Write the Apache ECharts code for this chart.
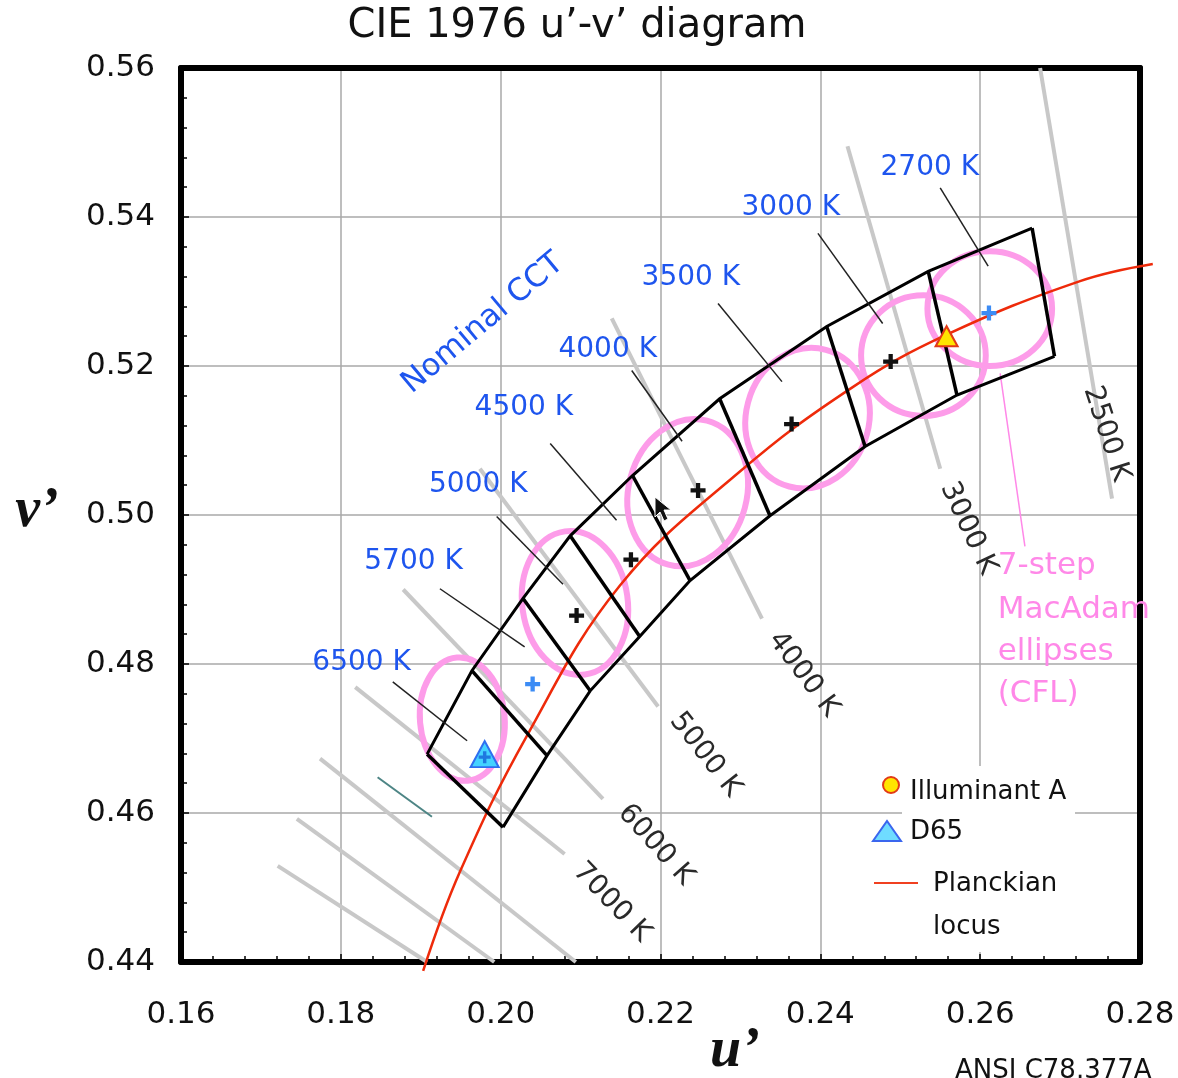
<!DOCTYPE html>
<html lang="en">
<head>
	<meta charset="utf-8" />
	<title>CIE 1976 u'-v' diagram</title>
	<script src="https://cdn.jsdelivr.net/npm/echarts@6/dist/echarts.min.js"></script>
	<style>
		html,body{margin:0;padding:0;background:#fff;}
		#mainchart{width:1178px;height:1078px;}
	</style>
</head>
<body>
<div id="mainchart"></div>
<script>
	// Planckian locus
	var locusU = [0.1903, 0.1949, 0.2033, 0.2149, 0.2299, 0.2441, 0.2558, 0.2725, 0.2816];
	var locusV = [0.4388, 0.4521, 0.4704, 0.4905, 0.5058, 0.5172, 0.5242, 0.5314, 0.5337];

	// quadrangles: upper / lower edge of the band, box i = points i..i+1
	var boxUpperU = [0.1908, 0.1964, 0.2028, 0.2087, 0.2165, 0.2274, 0.2408, 0.2535, 0.2665];
	var boxUpperV = [0.4679, 0.4791, 0.4888, 0.4972, 0.5053, 0.5156, 0.5253, 0.5327, 0.5385];
	var boxLowerU = [0.2003, 0.2058, 0.2112, 0.2174, 0.2237, 0.2337, 0.2456, 0.2571, 0.2693];
	var boxLowerV = [0.4581, 0.4677, 0.4764, 0.4837, 0.4912, 0.4999, 0.5092, 0.5161, 0.5213];

	// 7-step MacAdam ellipses (CFL): centre, half axes, tilt (deg)
	var ellipseU = [0.1952, 0.2093, 0.2234, 0.2384, 0.2529, 0.2612];
	var ellipseV = [0.4726, 0.4882, 0.5030, 0.5130, 0.5214, 0.5277];
	var ellipseRu = [0.0053, 0.0066, 0.0074, 0.0077, 0.0078, 0.0078];
	var ellipseRv = [0.0083, 0.0097, 0.0100, 0.0095, 0.0081, 0.0077];
	var ellipseTilt = [5, 8, -15, -15, 0, 0];

	// centre crosses
	var blackPlusU = [0.2095, 0.2163, 0.2247, 0.2364, 0.2488];
	var blackPlusV = [0.4865, 0.4940, 0.5033, 0.5122, 0.5206];
	var bluePlusU = [0.2040, 0.2611];
	var bluePlusV = [0.4773, 0.5271];
	var d65 = [0.1980, 0.4679];
	var illumA = [0.2558, 0.5240];

	// isotemperature lines
	var isoU1 = [0.2675, 0.2434, 0.2139, 0.1974, 0.1878, 0.1818, 0.1774, 0.1745, 0.1721];
	var isoV1 = [0.5600, 0.5495, 0.5264, 0.5062, 0.4900, 0.4769, 0.4673, 0.4592, 0.4529];
	var isoU2 = [0.2765, 0.2550, 0.2327, 0.2197, 0.2128, 0.2080, 0.2094, 0.1992, 0.1908];
	var isoV2 = [0.5022, 0.5062, 0.4861, 0.4743, 0.4619, 0.4545, 0.4400, 0.4400, 0.4400];
	var tealU = [0.1846, 0.1914];
	var tealV = [0.4648, 0.4595];

	var isoLabels = ['2500 K', '3000 K', '4000 K', '5000 K', '6000 K', '7000 K'];
	var isoLabelU = [0.2758, 0.2585, 0.2379, 0.2256, 0.2194, 0.2139];
	var isoLabelV = [0.5109, 0.4982, 0.4786, 0.4678, 0.4557, 0.4480];
	var isoLabelAngle = [-72, -65, -53, -52, -48, -46];

	// nominal CCT labels and leader lines
	var cctLabels = ['6500 K', '5700 K', '5000 K', '4500 K', '4000 K', '3500 K', '3000 K', '2700 K'];
	var cctLabelU = [0.1826, 0.1891, 0.1972, 0.2029, 0.2134, 0.2238, 0.2363, 0.2537];
	var cctLabelV = [0.4802, 0.4937, 0.5040, 0.5144, 0.5222, 0.5318, 0.5412, 0.5466];
	var leaderU1 = [0.1865, 0.1924, 0.1995, 0.2062, 0.2164, 0.2272, 0.2397, 0.2550];
	var leaderV1 = [0.4776, 0.4901, 0.4998, 0.5096, 0.5194, 0.5284, 0.5378, 0.5439];
	var leaderU2 = [0.1958, 0.2030, 0.2078, 0.2145, 0.2227, 0.2352, 0.2478, 0.2610];
	var leaderV2 = [0.4697, 0.4823, 0.4907, 0.4993, 0.5099, 0.5179, 0.5257, 0.5334];

	var noteLabels = ['Nominal CCT'];
	var noteU = [0.1978];
	var noteV = [0.5257];
	var noteAngle = [40];

	var pinkLabels = ['7-step', 'MacAdam', 'ellipses', '(CFL)'];
	var pinkU = [0.2622, 0.2622, 0.2622, 0.2622];
	var pinkV = [0.4931, 0.4873, 0.4816, 0.4760];
	var pinkLeaderU = [0.2625, 0.2656];
	var pinkLeaderV = [0.5190, 0.4958];

	var xTicks = [0.16, 0.28, 0.02];
	var yTicks = [0.44, 0.56, 0.02];

	var FONT = "'DejaVu Sans', sans-serif";
	var PLUS = 'path://M5,0H9V5H14V9H9V14H5V9H0V5H5Z';

	function segs(u1, v1, u2, v2){
		return u1.map(function(u, i){ return {coords: [[u, v1[i]], [u2[i], v2[i]]]}; });
	}
	function pts(us, vs){
		return us.map(function(u, i){ return [u, vs[i]]; });
	}
	function textSeries(labels, us, vs, angles, color, size, align){
		return {
			type: 'custom', silent: true, z: 6,
			data: us.map(function(u, i){ return [u, vs[i], angles ? angles[i] : 0]; }),
			renderItem: function(params, api){
				var p = api.coord([api.value(0), api.value(1)]);
				return {
					type: 'text', x: p[0], y: p[1],
					rotation: api.value(2) * Math.PI / 180,
					style: {text: labels[params.dataIndex], fill: color, font: size + 'px ' + FONT,
						align: align || 'center', verticalAlign: 'middle'}
				};
			}
		};
	}
	function frameAxis(pos){
		return {
			type: 'value', position: pos, min: pos == 'top' ? xTicks[0] : yTicks[0], max: pos == 'top' ? xTicks[1] : yTicks[1],
			axisLine: {show: true, onZero: false, lineStyle: {color: '#000', width: 6}},
			axisTick: {show: false}, axisLabel: {show: false}, splitLine: {show: false}
		};
	}

	var myChart = echarts.init(document.getElementById('mainchart'));
	var option = {
		backgroundColor: '#fff',
		animation: false,
		grid: {left: 181, right: 38, top: 68, bottom: 116},
		xAxis: [{
			type: 'value', min: xTicks[0], max: xTicks[1], interval: xTicks[2],
			axisLine: {show: true, onZero: false, lineStyle: {color: '#000', width: 6}},
			axisTick: {inside: true, length: 8, lineStyle: {color: '#000', width: 1.5}},
			minorTick: {show: true, splitNumber: 5, length: 6, lineStyle: {color: '#000', width: 1.5}},
			splitLine: {lineStyle: {color: '#a8a8a8', width: 1.5}},
			axisLabel: {margin: 37, fontSize: 31, fontFamily: FONT, color: '#111',
				formatter: function(v){ return v.toFixed(2); }}
		}, frameAxis('top')],
		yAxis: [{
			type: 'value', min: yTicks[0], max: yTicks[1], interval: yTicks[2],
			axisLine: {show: true, onZero: false, lineStyle: {color: '#000', width: 6}},
			axisTick: {inside: true, length: 8, lineStyle: {color: '#000', width: 1.5}},
			minorTick: {show: true, splitNumber: 5, length: 6, lineStyle: {color: '#000', width: 1.5}},
			splitLine: {lineStyle: {color: '#a8a8a8', width: 1.5}},
			axisLabel: {margin: 26, fontSize: 31, fontFamily: FONT, color: '#111',
				formatter: function(v){ return v.toFixed(2); }}
		}, frameAxis('right')],
		series: [
			{type: 'lines', coordinateSystem: 'cartesian2d', silent: true, z: 2,
				lineStyle: {color: '#c8c8c8', width: 4, opacity: 1},
				data: segs(isoU1, isoV1, isoU2, isoV2)},
			{type: 'lines', coordinateSystem: 'cartesian2d', silent: true, z: 2,
				lineStyle: {color: '#4d8585', width: 2, opacity: 1},
				data: [{coords: pts(tealU, tealV)}]},
			{type: 'custom', silent: true, z: 3,
				data: ellipseU.map(function(u, i){ return [u, ellipseV[i], ellipseRu[i], ellipseRv[i], ellipseTilt[i]]; }),
				renderItem: function(params, api){
					var c = api.coord([api.value(0), api.value(1)]);
					var s = api.size([api.value(2), api.value(3)]);
					return {type: 'ellipse', x: c[0], y: c[1], rotation: api.value(4) * Math.PI / 180,
						shape: {cx: 0, cy: 0, rx: s[0], ry: s[1]},
						style: {fill: 'none', stroke: '#fd9ce9', lineWidth: 6}};
				}},
			{type: 'lines', coordinateSystem: 'cartesian2d', silent: true, z: 3,
				lineStyle: {color: '#ff88e8', width: 1.5, opacity: 1},
				data: [{coords: pts(pinkLeaderU, pinkLeaderV)}]},
			// locus drawn as one smooth polyline, allowed to run past the frame
			{type: 'custom', silent: true, z: 4,
				data: pts(locusU, locusV),
				renderItem: function(params, api){
					if (params.dataIndex !== 0) return null;
					var p = locusU.map(function(u, i){ return api.coord([u, locusV[i]]); });
					return {type: 'polyline', shape: {points: p, smooth: 0.4},
						style: {fill: 'none', stroke: '#ee2a0a', lineWidth: 2.5}};
				}},
			{type: 'lines', coordinateSystem: 'cartesian2d', polyline: true, silent: true, z: 5,
				lineStyle: {color: '#000', width: 3, opacity: 1},
				data: [{coords: pts(boxUpperU, boxUpperV)}, {coords: pts(boxLowerU, boxLowerV)}]},
			{type: 'lines', coordinateSystem: 'cartesian2d', silent: true, z: 5,
				lineStyle: {color: '#000', width: 3.5, opacity: 1},
				data: segs(boxUpperU, boxUpperV, boxLowerU, boxLowerV)},
			{type: 'lines', coordinateSystem: 'cartesian2d', silent: true, z: 5,
				lineStyle: {color: '#222', width: 1.5, opacity: 1},
				data: segs(leaderU1, leaderV1, leaderU2, leaderV2)},
			{type: 'scatter', silent: true, z: 6, symbol: PLUS, symbolSize: 15,
				itemStyle: {color: '#111', opacity: 1}, data: pts(blackPlusU, blackPlusV)},
			{type: 'scatter', silent: true, z: 6, symbol: PLUS, symbolSize: 15,
				itemStyle: {color: '#3c8cf5', opacity: 1}, data: pts(bluePlusU, bluePlusV)},
			{type: 'scatter', silent: true, z: 7, symbol: 'triangle', symbolSize: [28, 26],
				itemStyle: {color: '#44d2ff', borderColor: '#2f6ef0', borderWidth: 2, opacity: 1}, data: [d65]},
			{type: 'scatter', silent: true, z: 8, symbol: PLUS, symbolSize: 12,
				itemStyle: {color: '#1f78e0', opacity: 1}, data: [[d65[0], d65[1] - 0.0004]]},
			{type: 'scatter', silent: true, z: 7, symbol: 'triangle', symbolSize: [22, 20],
				itemStyle: {color: '#ffe500', borderColor: '#e23a16', borderWidth: 2, opacity: 1}, data: [illumA]},
			textSeries(isoLabels, isoLabelU, isoLabelV, isoLabelAngle, '#2a2a2a', 28),
			textSeries(cctLabels, cctLabelU, cctLabelV, null, '#1e55ee', 28),
			textSeries(noteLabels, noteU, noteV, noteAngle, '#1e55ee', 31),
			textSeries(pinkLabels, pinkU, pinkV, null, '#ff88e8', 31, 'left')
		],
		graphic: [
			{type: 'text', x: 577, y: 27,
				style: {text: 'CIE 1976 u\u2019-v\u2019 diagram', font: '40px ' + FONT, fill: '#111', align: 'center', verticalAlign: 'middle'}},
			{type: 'text', x: 735, y: 1052, z: 10,
				style: {text: 'u\u2019', font: 'italic bold 56px "Liberation Serif", serif', fill: '#111', align: 'center', verticalAlign: 'middle'}},
			{type: 'text', x: 37, y: 512, z: 10,
				style: {text: 'v\u2019', font: 'italic bold 56px "Liberation Serif", serif', fill: '#111', align: 'center', verticalAlign: 'middle'}},
			{type: 'text', x: 955, y: 1058, z: 10,
				style: {text: 'ANSI C78.377A', font: '26px ' + FONT, fill: '#111', verticalAlign: 'top'}},
			// mouse pointer left in the screenshot
			{type: 'polygon', z: 10, shape: {points: [[655, 497], [655, 517], [660, 512], [664, 521], [668, 519], [664, 510], [671, 510]]},
				style: {fill: '#111', stroke: '#fff', lineWidth: 1}},
			// legend
			{type: 'rect', z: 9, shape: {x: 902, y: 766, width: 173, height: 186}, style: {fill: '#fff'}},
			{type: 'circle', z: 10, shape: {cx: 891, cy: 785, r: 8}, style: {fill: '#ffe500', stroke: '#e23a16', lineWidth: 2}},
			{type: 'text', z: 10, x: 910, y: 792, style: {text: 'Illuminant A', font: '26px ' + FONT, fill: '#111', verticalAlign: 'middle'}},
			{type: 'polygon', z: 10, shape: {points: [[873, 841], [901, 841], [887, 821]]}, style: {fill: '#6fdcff', stroke: '#3a66ee', lineWidth: 2}},
			{type: 'text', z: 10, x: 910, y: 832, style: {text: 'D65', font: '26px ' + FONT, fill: '#111', verticalAlign: 'middle'}},
			{type: 'line', z: 10, shape: {x1: 874, y1: 883, x2: 918, y2: 883}, style: {stroke: '#f04020', lineWidth: 2}},
			{type: 'text', z: 10, x: 933, y: 884, style: {text: 'Planckian', font: '26px ' + FONT, fill: '#111', verticalAlign: 'middle'}},
			{type: 'text', z: 10, x: 933, y: 927, style: {text: 'locus', font: '26px ' + FONT, fill: '#111', verticalAlign: 'middle'}}
		]
	};
	myChart.setOption(option);
</script>
</body>
</html>
